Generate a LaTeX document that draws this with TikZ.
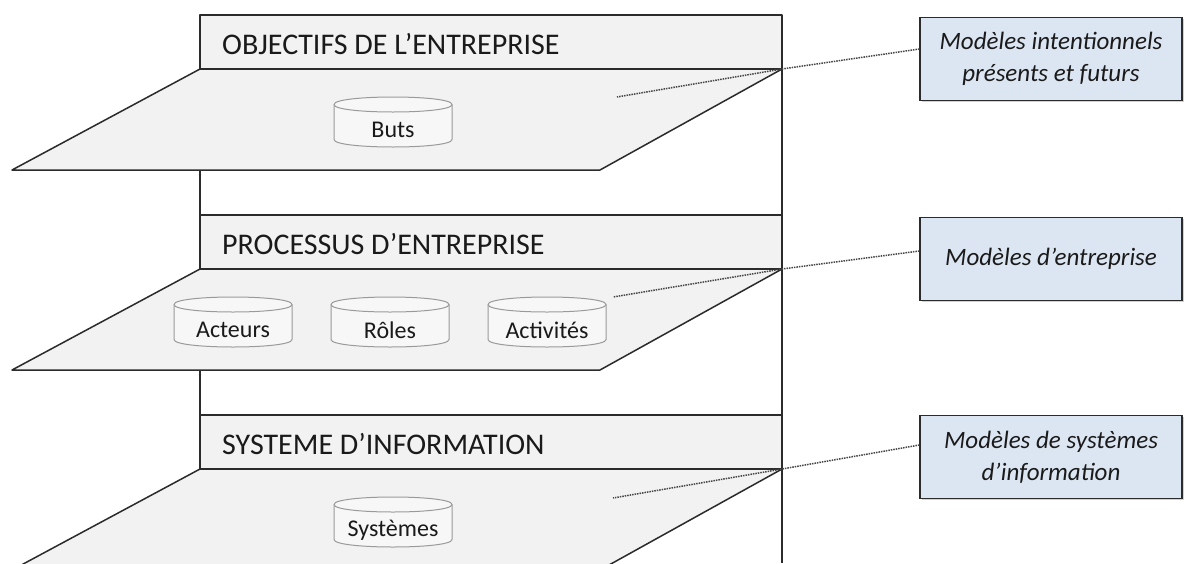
\documentclass[tikz,border=0pt]{standalone}
\usepackage{fontspec}
\setmainfont{Carlito}
\usetikzlibrary{shadows}
\definecolor{panel}{HTML}{F2F2F2}
\definecolor{boxblue}{HTML}{DCE6F2}
\definecolor{edge}{HTML}{2B2B2B}
\definecolor{drumedge}{HTML}{9A9A9A}
\definecolor{txt}{HTML}{1A1A1A}
\tikzset{
  frame/.style={draw=edge, line width=1.5pt},
  panelbox/.style={fill=panel, draw=edge, line width=1.5pt, line join=round},
  headtext/.style={anchor=west, text=txt, font=\fontsize{30}{33}\selectfont, inner sep=0pt},
  drum/.style={fill=panel!60!white, draw=drumedge, line width=1pt},
  drumtext/.style={text=txt, font=\fontsize{24}{27}\selectfont, inner sep=0pt},
  modelbox/.style={fill=boxblue, draw=edge, line width=1.3pt, minimum width=262pt, minimum height=83pt,
     align=center, text=txt, font=\itshape\fontsize{25}{32}\selectfont,
     drop shadow={shadow xshift=1.5pt, shadow yshift=-1.5pt, opacity=0.35}},
  link/.style={draw=gray!55!black, line width=1.5pt, densely dotted}
}
\newcommand\drum[4]{%
  \filldraw[drum] (#2-59,#3-17.5) -- (#2-59,#3+17.5)
     .. controls (#2-59,#3+27.5) and (#2+59,#3+27.5) .. (#2+59,#3+17.5)
     -- (#2+59,#3-17.5)
     .. controls (#2+59,#3-27.5) and (#2-59,#3-27.5) .. (#2-59,#3-17.5) -- cycle;
  \draw[drum, fill=none] (#2-59,#3-17.5) .. controls (#2-59,#3-7.5) and (#2+59,#3-7.5) .. (#2+59,#3-17.5);
  \node[drumtext] (#1) at (#2,#3+8) {#4};
}
\newcommand\layer[3]{% top y, name, text
  \draw[panelbox] (200,#1) rectangle (782,#1+54);
  \node[headtext] (#2) at (222,#1+29) {#3};
  \draw[panelbox] (200,#1+54) -- (782,#1+54) -- (600,#1+155) -- (12,#1+155) -- cycle;
}
\begin{document}
\begin{tikzpicture}[x=1pt,y=-1pt]
\path[use as bounding box] (0,0) rectangle (1188,563);
\clip (0,0) rectangle (1188,563);
\fill[white] (0,0) rectangle (1188,563);
% vertical frame
\draw[frame] (200,15) -- (200,563);
\draw[frame] (782,15) -- (782,563);
% layers
\layer{15}{h1}{OBJECTIFS DE L’ENTREPRISE}
\drum{buts}{393}{122}{Buts}
\layer{215}{h2}{PROCESSUS D’ENTREPRISE}
\drum{acteurs}{233}{322}{Acteurs}
\drum{roles}{390}{322}{Rôles}
\drum{activites}{547}{322}{Activités}
\layer{415}{h3}{SYSTEME D’INFORMATION}
\drum{systemes}{393}{522}{Systèmes}
% model boxes
\node[modelbox] (m1) at (1051,59) {Modèles intentionnels\\présents et futurs};
\node[modelbox] (m2) at (1051,259) {Modèles d’entreprise};
\node[modelbox] (m3) at (1051,457) {Modèles de systèmes\\d’information};
% link points
\coordinate (c1) at (782,69);
\coordinate (p1) at (617,97);
\coordinate (c2) at (782,269);
\coordinate (p2) at (613,297);
\coordinate (c3) at (782,469);
\coordinate (p3) at (613,498);
\draw[link] ([yshift=10pt]m1.west) -- (c1) -- (p1);
\draw[link] ([yshift=8pt]m2.west) -- (c2) -- (p2);
\draw[link] ([yshift=12pt]m3.west) -- (c3) -- (p3);
\end{tikzpicture}
\end{document}
